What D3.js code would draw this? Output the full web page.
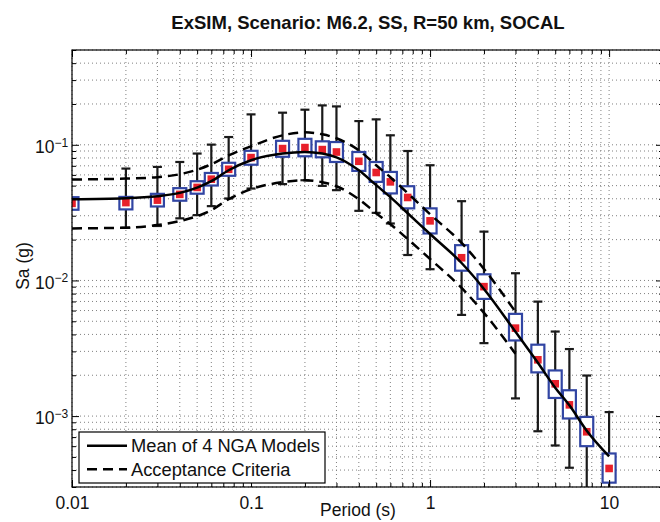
<!DOCTYPE html>
<html>
<head>
<meta charset="utf-8">
<script src="https://cdn.jsdelivr.net/npm/d3@7"></script>
<style>
  body { margin: 0; background: #fff; }
  svg text { font-family: "Liberation Sans", Arial, Helvetica, sans-serif; fill: #111; }
</style>
</head>
<body>
<div id="chart"></div>
<script>
// periods (s) of the simulated points
const periods = [0.01, 0.02, 0.03, 0.04, 0.05, 0.06, 0.075, 0.1, 0.15, 0.2, 0.25, 0.3, 0.4, 0.5, 0.6, 0.75, 1, 1.5, 2, 3, 4, 5, 6, 7.5, 10];
// ExSIM median Sa (red squares)
const simMedian = [0.037, 0.0375, 0.0391, 0.0431, 0.0485, 0.0558, 0.066, 0.0805, 0.0938, 0.0954, 0.0922, 0.0885, 0.0756, 0.0625, 0.0533, 0.0409, 0.0275, 0.0147, 0.009, 0.00445, 0.0026, 0.00173, 0.00121, 0.000766, 0.000411];
// blue boxes
const boxHi = [0.0411, 0.0413, 0.0435, 0.0479, 0.0539, 0.062, 0.0737, 0.0903, 0.107, 0.1107, 0.1061, 0.1048, 0.0885, 0.0747, 0.0631, 0.0495, 0.034, 0.0182, 0.0111, 0.00567, 0.00336, 0.00217, 0.00155, 0.000986, 0.00053];
const boxLo = [0.0332, 0.0334, 0.0351, 0.0387, 0.0436, 0.0501, 0.0591, 0.0713, 0.0816, 0.0823, 0.0809, 0.0747, 0.0642, 0.0533, 0.0438, 0.034, 0.0222, 0.0118, 0.00731, 0.00361, 0.0021, 0.00136, 0.00096, 0.0006, 0.000323];
// error bars (none drawn at 0.01 s)
const errHi = [null, 0.0668, 0.0687, 0.0747, 0.0862, 0.1003, 0.1141, 0.1676, 0.1725, 0.1815, 0.1952, 0.1919, 0.1496, 0.154, 0.1175, 0.09, 0.0707, 0.0384, 0.0229, 0.0113, 0.00698, 0.0042, 0.00312, 0.00199, 0.00107];
const errLo = [null, 0.02445, 0.0252, 0.0287, 0.0303, 0.0353, 0.0402, 0.0476, 0.0513, 0.0548, 0.0498, 0.0463, 0.0326, 0.0315, 0.0263, 0.0154, 0.0121, 0.00557, 0.00345, 0.00135, 0.000773, 0.000607, 0.000416, 0.00025, 0.00016];
// mean of 4 NGA models
const ngaMean = [0.0397, 0.0404, 0.0418, 0.0442, 0.0483, 0.0539, 0.0649, 0.0769, 0.0862, 0.0885, 0.0862, 0.0809, 0.0649, 0.0504, 0.0411, 0.0313, 0.022, 0.01345, 0.00866, 0.00418, 0.00247, 0.00162, 0.0012, 0.00078, 0.000504];
// acceptance criteria (dashed), up to 3 s
const critPeriods = [0.01, 0.02, 0.03, 0.04, 0.05, 0.06, 0.075, 0.1, 0.15, 0.2, 0.25, 0.3, 0.4, 0.5, 0.6, 0.75, 1, 1.5, 2, 3];
const critUpper = [0.0555, 0.0564, 0.0577, 0.0607, 0.0655, 0.0719, 0.0837, 0.0975, 0.1175, 0.1236, 0.1195, 0.1117, 0.0911, 0.0707, 0.0577, 0.044, 0.0308, 0.0189, 0.01215, 0.00587];
const critLower = [0.0242, 0.0245, 0.0256, 0.0274, 0.0298, 0.033, 0.0397, 0.0471, 0.053, 0.0548, 0.053, 0.0495, 0.0397, 0.0313, 0.026, 0.0202, 0.0144, 0.0088, 0.00577, 0.00288];

const xLabels = [0.01, 0.1, 1, 10];
const yLabels = [1e-3, 1e-2, 1e-1];
const legendItems = [["Mean of 4 NGA Models", null], ["Acceptance Criteria", "10,6"]];

const W = 660, H = 522;
const pLeft = 72, pRight = 663, pTop = 50, pBottom = 487;

const svg = d3.select("#chart").append("svg")
    .attr("width", W)
    .attr("height", H);

const x = d3.scaleLog().domain([0.01, 20]).range([pLeft, pRight]);
const y = d3.scaleLog().domain([3e-4, 0.5]).range([pBottom, pTop]);

const isMajor = d => Math.abs(Math.log10(d) - Math.round(Math.log10(d))) < 1e-9;

svg.append("defs").append("clipPath").attr("id", "plot")
    .append("rect").attr("x", pLeft).attr("y", pTop)
    .attr("width", pRight - pLeft).attr("height", pBottom - pTop);

// dotted grid, major and minor
const grid = svg.append("g").attr("stroke", "#808080").attr("stroke-width", 1).attr("stroke-dasharray", "1,3");
grid.selectAll(".gx").data(x.ticks()).enter().append("line")
    .attr("x1", d => x(d)).attr("x2", d => x(d))
    .attr("y1", pTop).attr("y2", pBottom);
grid.selectAll(".gy").data(y.ticks()).enter().append("line")
    .attr("y1", d => y(d)).attr("y2", d => y(d))
    .attr("x1", pLeft).attr("x2", pRight);

const plot = svg.append("g").attr("clip-path", "url(#plot)");

// error bars
const eb = plot.append("g").attr("stroke", "#1a1a1a").attr("stroke-width", 2.2);
periods.forEach((t, i) => {
    if (errHi[i] == null) return;
    const cx = x(t);
    eb.append("line").attr("x1", cx).attr("x2", cx).attr("y1", y(errHi[i])).attr("y2", y(errLo[i]));
    eb.append("line").attr("x1", cx - 4.5).attr("x2", cx + 4.5).attr("y1", y(errHi[i])).attr("y2", y(errHi[i]));
    eb.append("line").attr("x1", cx - 4.5).attr("x2", cx + 4.5).attr("y1", y(errLo[i])).attr("y2", y(errLo[i]));
});

// boxes
plot.append("g").selectAll("rect").data(periods).enter().append("rect")
    .attr("x", d => x(d) - 6.5)
    .attr("width", 13)
    .attr("y", (d, i) => y(boxHi[i]))
    .attr("height", (d, i) => y(boxLo[i]) - y(boxHi[i]))
    .attr("fill", "#fff")
    .attr("stroke", "#3145a3")
    .attr("stroke-width", 2.2);

// red squares
plot.append("g").selectAll("rect").data(periods).enter().append("rect")
    .attr("x", d => x(d) - 3.8)
    .attr("y", (d, i) => y(simMedian[i]) - 3.8)
    .attr("width", 7.6).attr("height", 7.6)
    .attr("fill", "#e8202a");

// curves
const line = d3.line().x(d => x(d[0])).y(d => y(d[1])).curve(d3.curveMonotoneX);
plot.append("path").datum(periods.map((t, i) => [t, ngaMean[i]]))
    .attr("d", line).attr("fill", "none").attr("stroke", "#000").attr("stroke-width", 2.5);
[critUpper, critLower].forEach(s => {
    plot.append("path").datum(critPeriods.map((t, i) => [t, s[i]]))
        .attr("d", line).attr("fill", "none").attr("stroke", "#000")
        .attr("stroke-width", 2.5).attr("stroke-dasharray", "10,6");
});

// axes: ticks inward on all sides
const minorX = x.ticks().filter(d => !isMajor(d));
const minorY = y.ticks().filter(d => !isMajor(d));
const axes = [
    [d3.axisBottom(x), `translate(0,${pBottom})`, minorX, xLabels],
    [d3.axisTop(x), `translate(0,${pTop})`, minorX, xLabels],
    [d3.axisLeft(y), `translate(${pLeft},0)`, minorY, yLabels],
    [d3.axisRight(y), `translate(${pRight},0)`, minorY, yLabels]
];
axes.forEach(([ax, tr, minor, major]) => {
    const g1 = svg.append("g").attr("transform", tr)
        .call(ax.tickValues(minor).tickSize(-4).tickFormat(""));
    g1.select(".domain").remove();
    const g2 = svg.append("g").attr("transform", tr)
        .call(ax.tickValues(major).tickSize(-7).tickFormat(""));
    g2.select(".domain").remove();
    svg.selectAll(".tick line").attr("stroke", "#000").attr("stroke-width", 1);
});

// frame
svg.append("rect").attr("x", pLeft).attr("y", pTop)
    .attr("width", pRight - pLeft).attr("height", pBottom - pTop)
    .attr("fill", "none").attr("stroke", "#000").attr("stroke-width", 1.2);

// tick labels
const xl = svg.append("g").attr("transform", `translate(0,${pBottom})`)
    .call(d3.axisBottom(x).tickValues(xLabels).tickSize(0).tickPadding(10).tickFormat(d => d3.format("~g")(d)));
xl.select(".domain").remove();
xl.selectAll("text").style("font-size", "17.5px").attr("fill", "#111");

const yl = svg.append("g").attr("transform", `translate(${pLeft},0)`)
    .call(d3.axisLeft(y).tickValues(yLabels).tickSize(0).tickPadding(20).tickFormat(""));
yl.select(".domain").remove();
yl.selectAll("text").each(function (d) {
    const t = d3.select(this).attr("x", -37).attr("dy", "0.45em").attr("text-anchor", "start").style("font-size", "17.5px");
    t.append("tspan").text("10");
    t.append("tspan").attr("dy", "-0.55em").style("font-size", "12px").text("\u2212" + Math.round(-Math.log10(d)));
});

// titles
svg.append("text").attr("x", 368).attr("y", 29).attr("text-anchor", "middle")
    .style("font-size", "18.5px").style("font-weight", "bold")
    .text("ExSIM, Scenario: M6.2, SS, R=50 km, SOCAL");
svg.append("text").attr("x", 358).attr("y", 516).attr("text-anchor", "middle")
    .style("font-size", "17.5px").text("Period (s)");
svg.append("text").attr("transform", "rotate(-90)").attr("x", -266).attr("y", 29)
    .attr("text-anchor", "middle").style("font-size", "17.5px").text("Sa (g)");

// legend
const lg = svg.append("g").attr("transform", "translate(79,432)");
lg.append("rect").attr("width", 246).attr("height", 51)
    .attr("fill", "#fff").attr("stroke", "#000").attr("stroke-width", 1.2);
legendItems.forEach(([label, dash], i) => {
    const ly = 13.7 + i * 23.6;
    lg.append("line").attr("x1", 8).attr("x2", 48).attr("y1", ly).attr("y2", ly)
        .attr("stroke", "#000").attr("stroke-width", 2.5)
        .attr("stroke-dasharray", dash);
    lg.append("text").attr("x", 52).attr("y", ly).attr("dy", "0.35em")
        .style("font-size", "18.3px").text(label);
});
</script>
</body>
</html>
